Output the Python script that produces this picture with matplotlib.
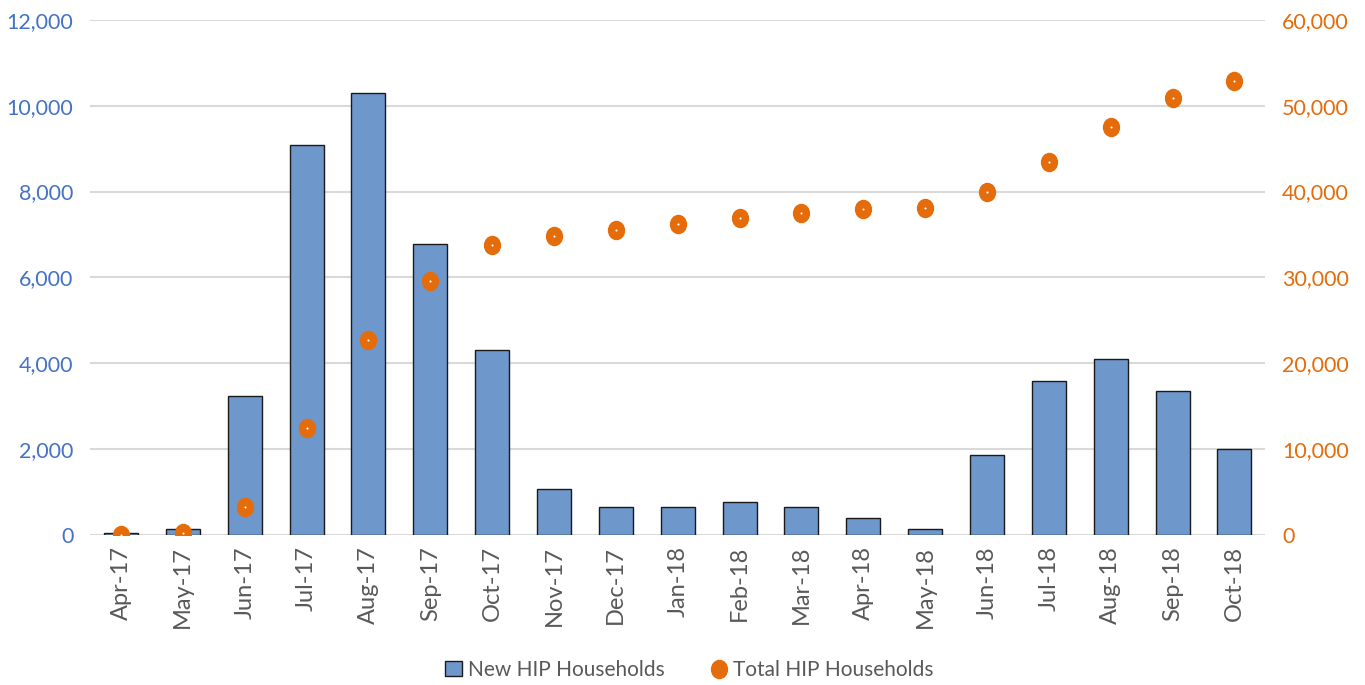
import numpy as np
from matplotlib import pyplot as plt
from matplotlib.path import Path
from matplotlib.transforms import Affine2D

# Dados do gráfico
months = ['Apr-17', 'May-17', 'Jun-17', 'Jul-17', 'Aug-17', 'Sep-17', 'Oct-17',
          'Nov-17', 'Dec-17', 'Jan-18', 'Feb-18', 'Mar-18', 'Apr-18', 'May-18',
          'Jun-18', 'Jul-18', 'Aug-18', 'Sep-18', 'Oct-18']
new_hip = [50, 140, 3240, 9090, 10300, 6780, 4310, 1070, 650, 650, 770, 650,
           400, 140, 1860, 3590, 4100, 3355, 2000]
total_hip = [50, 190, 3300, 12500, 22750, 29600, 33800, 34850, 35550, 36250,
             36950, 37550, 38000, 38100, 40000, 43500, 47550, 50950, 52900]

plt.rcParams['font.family'] = ['Lato', 'DejaVu Sans']

blue = '#4472C4'
orange = '#E46C0A'

# marcador oval (um pouco mais alto que largo)
oval = Path.unit_circle().transformed(Affine2D().scale(0.88, 1.0))

fig = plt.figure(figsize=(13.65, 6.85), dpi=100)
ax = fig.add_axes([0.066, 0.219, 0.861, 0.752])
ax2 = ax.twinx()

x = np.arange(len(months))
ax.bar(x, new_hip, width=0.55, color='#6E97CB', edgecolor='#1a1a1a',
       linewidth=1.0, zorder=2, label='New HIP Households')
ax.set_ylim(0, 12000)
ax.set_yticks(np.arange(0, 12001, 2000))
ax.set_yticklabels([f'{v:,}' for v in range(0, 12001, 2000)])
ax.grid(axis='y', color='#D9D9D9', linewidth=1.5, zorder=0)
ax.set_axisbelow(True)
ax.set_xlim(-0.5, len(months) - 0.5)
ax.set_xticks(x)
ax.set_xticklabels(months, rotation=90)
ax.tick_params(axis='x', length=0, labelsize=17, labelcolor='#595959', pad=8)
ax.tick_params(axis='y', length=0, labelsize=15.5, labelcolor=blue, pad=12)

ax2.plot(x, total_hip, linestyle='none', marker=oval, markersize=13,
         color=orange, markeredgecolor=orange, zorder=3,
         label='Total HIP Households')
ax2.plot(x, total_hip, linestyle='none', marker='o', markersize=1.5,
         color='white', markeredgewidth=0, zorder=4)
ax2.set_ylim(0, 60000)
ax2.set_yticks(np.arange(0, 60001, 10000))
ax2.set_yticklabels([f'{v:,}' for v in range(0, 60001, 10000)])
ax2.tick_params(axis='y', length=0, labelsize=15.5, labelcolor=orange, pad=12)

for a in (ax, ax2):
    for s in a.spines.values():
        s.set_visible(False)

h1, l1 = ax.get_legend_handles_labels()
h2, l2 = ax2.get_legend_handles_labels()
fig.legend(h1 + h2, l1 + l2, loc='center', bbox_to_anchor=(0.505, 0.022),
           ncol=2, frameon=False, fontsize=15, labelcolor='#595959',
           handlelength=0.8, handletextpad=0.3, columnspacing=2.2)

plt.savefig('out.png', dpi=100)
